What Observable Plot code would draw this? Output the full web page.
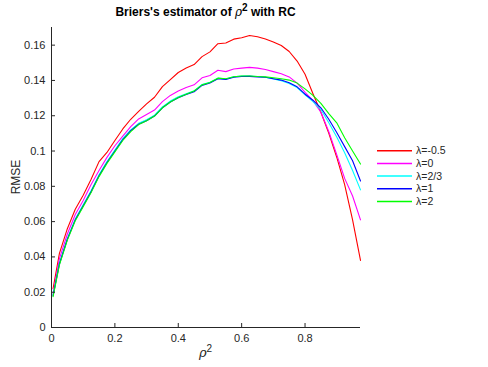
<!DOCTYPE html>
<html>
<head>
<meta charset="utf-8">
<script src="https://cdn.jsdelivr.net/npm/d3@7"></script>
<script src="https://cdn.jsdelivr.net/npm/@observablehq/plot@0.6"></script>
<style>
  html, body { margin: 0; padding: 0; background: #fff; }
  #wrap { position: relative; width: 488px; height: 367px; font-family: "Liberation Sans", Arial, sans-serif; color: #262626; }
  #title { position: absolute; left: 51px; width: 309px; top: 5px; text-align: center; font-weight: bold; font-size: 12px; color: #000; }
  .rho { font-family: "DejaVu Serif", serif; font-style: italic; font-weight: normal; }
  #xlabel { position: absolute; left: 51px; width: 309px; top: 345px; text-align: center; font-size: 13px; }
  #ylabel { position: absolute; left: 16px; top: 177px; transform: translate(-50%, -50%) rotate(-90deg); font-size: 12px; white-space: nowrap; }
  #legend { position: absolute; left: 370px; top: 140px; }
  sup { font-size: 10px; vertical-align: 5px; line-height: 0; }
</style>
</head>
<body>
<div id="wrap">
  <div id="chart"></div>
  <div id="title">Briers's estimator of <span class="rho">ρ</span><sup>2</sup> with RC</div>
  <div id="xlabel"><span class="rho">ρ</span><sup>2</sup></div>
  <div id="ylabel">RMSE</div>
  <div id="legend"></div>
</div>
<script>
const xs = [0.005,0.025,0.05,0.075,0.1,0.125,0.15,0.175,0.2,0.225,0.25,0.275,0.3,0.325,0.35,0.375,0.4,0.425,0.45,0.475,0.5,0.525,0.55,0.575,0.6,0.625,0.65,0.675,0.7,0.725,0.75,0.775,0.8,0.825,0.85,0.875,0.9,0.925,0.95,0.975];

const lambdaM05 = [0.022,0.042,0.056,0.067,0.075,0.084,0.094,0.0992,0.106,0.1125,0.118,0.1225,0.1267,0.1305,0.1365,0.1405,0.1445,0.147,0.149,0.1535,0.1562,0.1608,0.1612,0.1634,0.1642,0.1655,0.1648,0.1635,0.1618,0.1598,0.1564,0.151,0.1435,0.1325,0.122,0.110,0.0965,0.081,0.061,0.038];
const lambda0 = [0.019,0.039,0.053,0.064,0.072,0.081,0.089,0.0964,0.103,0.1085,0.1138,0.1182,0.1207,0.1232,0.128,0.1315,0.134,0.136,0.1375,0.1415,0.1428,0.1458,0.145,0.1465,0.147,0.1474,0.147,0.1462,0.145,0.1438,0.142,0.1385,0.1333,0.1285,0.122,0.111,0.098,0.0845,0.0745,0.061];
const lambda23 = [0.0185,0.0365,0.0505,0.0615,0.0695,0.0775,0.0865,0.094,0.1005,0.107,0.112,0.1157,0.1177,0.1203,0.125,0.1283,0.1307,0.1325,0.1341,0.1377,0.139,0.1413,0.1408,0.1421,0.1425,0.1425,0.1422,0.1418,0.1408,0.1398,0.1383,0.136,0.1318,0.128,0.1235,0.116,0.108,0.099,0.089,0.078];
const lambda1 = [0.018,0.036,0.050,0.061,0.069,0.077,0.086,0.0935,0.1,0.1065,0.1115,0.1152,0.1172,0.1198,0.1245,0.1278,0.1302,0.132,0.1336,0.1372,0.1385,0.141,0.1405,0.1418,0.1422,0.1423,0.142,0.1418,0.141,0.1402,0.1387,0.1364,0.1322,0.1288,0.1245,0.118,0.1105,0.1025,0.0945,0.083];
const lambda2 = [0.0175,0.0355,0.0495,0.0605,0.0685,0.0765,0.0855,0.093,0.0995,0.106,0.111,0.115,0.1172,0.1198,0.1245,0.1278,0.1303,0.1322,0.134,0.1375,0.1388,0.1413,0.141,0.1421,0.1425,0.1425,0.1422,0.142,0.1415,0.141,0.1402,0.1385,0.1352,0.1315,0.127,0.1212,0.116,0.1075,0.100,0.0926];

const seriesNames = ["λ=-0.5", "λ=0", "λ=2/3", "λ=1", "λ=2"];
const seriesColors = ["#ff0000", "#ff00ff", "#00ffff", "#0000ff", "#00ff00"];
const seriesValues = [lambdaM05, lambda0, lambda23, lambda1, lambda2];

const xTicks = [0, 0.2, 0.4, 0.6, 0.8];
const yTicks = [0, 0.02, 0.04, 0.06, 0.08, 0.1, 0.12, 0.14, 0.16];

const data = [];
seriesNames.forEach((name, i) => {
  xs.forEach((x, j) => data.push({x, y: seriesValues[i][j], s: name}));
});

const axisColor = "#262626";
const chart = Plot.plot({
  width: 488,
  height: 367,
  marginLeft: 51,
  marginRight: 128,
  marginTop: 27,
  marginBottom: 40,
  style: { fontFamily: "'Liberation Sans', Arial, sans-serif", fontSize: "11px", color: axisColor, background: "white" },
  x: { domain: [0, 0.975] },
  y: { domain: [0, 0.17] },
  color: { domain: seriesNames, range: seriesColors },
  marks: [
    Plot.line(data, { x: "x", y: "y", z: "s", stroke: "s", strokeWidth: 1.1 }),
    Plot.ruleX([0], { stroke: axisColor, strokeWidth: 1 }),
    Plot.ruleY([0], { stroke: axisColor, strokeWidth: 1 }),
    Plot.axisX(xTicks, { tickSize: -4, stroke: axisColor, text: null, label: null }),
    Plot.axisX(xTicks, { tickSize: 0, tickPadding: 7, tickFormat: d => String(d), fill: axisColor, label: null }),
    Plot.axisY(yTicks, { tickSize: -4, stroke: axisColor, text: null, label: null }),
    Plot.axisY(yTicks, { tickSize: 0, tickPadding: 6, tickFormat: d => String(d), fill: axisColor, label: null })
  ]
});
document.getElementById("chart").appendChild(chart);

// Legend as SVG
const rowH = 12.7;
const lsvg = d3.select("#legend").append("svg")
  .attr("width", 100).attr("height", 80);
const rows = lsvg.selectAll("g").data(seriesNames).join("g")
  .attr("transform", (d, i) => `translate(0,${10.7 + i * rowH})`);
rows.append("line")
  .attr("x1", 7).attr("x2", 42).attr("y1", 0).attr("y2", 0)
  .attr("stroke", (d, i) => seriesColors[i]).attr("stroke-width", 1.5);
rows.append("text")
  .attr("x", 46).attr("y", 0).attr("dy", "0.35em")
  .attr("font-family", "'Liberation Sans', Arial, sans-serif")
  .attr("font-size", 10.5).attr("fill", axisColor)
  .text(d => d);
</script>
</body>
</html>
